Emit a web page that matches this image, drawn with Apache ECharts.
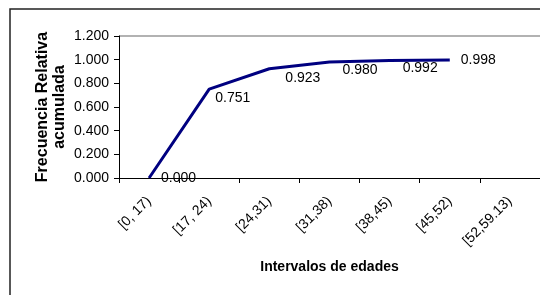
<!DOCTYPE html>
<html>
<head>
<meta charset="utf-8">
<script src="https://cdn.jsdelivr.net/npm/echarts@6/dist/echarts.min.js"></script>
<style>
  html, body { margin: 0; padding: 0; background: #fff; }
  #main { width: 540px; height: 295px; }
</style>
</head>
<body>
<div id="main"></div>
<script>
// intervalos de edades y frecuencia relativa acumulada
var categories = ['[0, 17)', '[17, 24)', '[24,31)', '[31,38)', '[38,45)', '[45,52)', '[52,59.13)'];
var values = [0.000, 0.751, 0.923, 0.980, 0.992, 0.998];
var yTicks = [0, 0.2, 0.4, 0.6, 0.8, 1.0, 1.2];

// desplazamiento de cada etiqueta (como en el original)
var labelShift = [[12, 0], [6, 9], [16, 9], [13, 8], [13, 8], [11, 0]];

var font = 'Arial, "Liberation Sans", sans-serif';

var seriesData = values.map(function (v, i) {
    return { value: v, label: { offset: labelShift[i] } };
});

var option = {
    animation: false,
    backgroundColor: '#fff',
    graphic: [{
        type: 'rect',
        shape: { x: 10, y: 9, width: 600, height: 320 },
        style: { fill: 'none', stroke: '#222', lineWidth: 1.5 }
    }],
    grid: { left: 119, top: 36, width: 426, height: 142 },
    xAxis: {
        type: 'category',
        data: categories,
        boundaryGap: true,
        name: 'Intervalos de edades',
        nameLocation: 'middle',
        nameGap: 82,
        nameMoveOverlap: false,
        nameTextStyle: { fontFamily: font, fontSize: 14, fontWeight: 'bold', color: '#000' },
        axisLine: { lineStyle: { color: '#000', width: 1 } },
        axisTick: { show: true, length: 5, lineStyle: { color: '#000' } },
        axisLabel: { rotate: 45, margin: 21, fontFamily: font, fontSize: 14, color: '#000', interval: 0 },
        splitLine: { show: false }
    },
    yAxis: {
        type: 'value',
        min: yTicks[0],
        max: yTicks[yTicks.length - 1],
        interval: 0.2,
        name: 'Frecuencia Relativa\nacumulada',
        nameLocation: 'middle',
        nameGap: 51,
        nameMoveOverlap: false,
        nameTextStyle: { fontFamily: font, fontSize: 16, fontWeight: 'bold', color: '#000', lineHeight: 17 },
        axisLine: { show: true, lineStyle: { color: '#000', width: 1 } },
        axisTick: { show: true, length: 5, lineStyle: { color: '#000' } },
        axisLabel: {
            margin: 10, fontFamily: font, fontSize: 14, color: '#000',
            formatter: function (v) { return v.toFixed(3); }
        },
        splitLine: {
            show: true,
            lineStyle: { color: ['transparent', 'transparent', 'transparent', 'transparent', 'transparent', 'transparent', '#999'], width: 1.5 }
        }
    },
    series: [{
        type: 'line',
        data: seriesData,
        symbol: 'circle',
        symbolSize: 0,
        showSymbol: true,
        itemStyle: { color: '#000080' },
        lineStyle: { color: '#000080', width: 3 },
        label: {
            show: true,
            position: 'right',
            distance: 0,
            fontFamily: font,
            fontSize: 14,
            color: '#000',
            formatter: function (p) { return p.value.toFixed(3); }
        }
    }]
};

var myChart = echarts.init(document.getElementById('main'));
myChart.setOption(option);
</script>
</body>
</html>
